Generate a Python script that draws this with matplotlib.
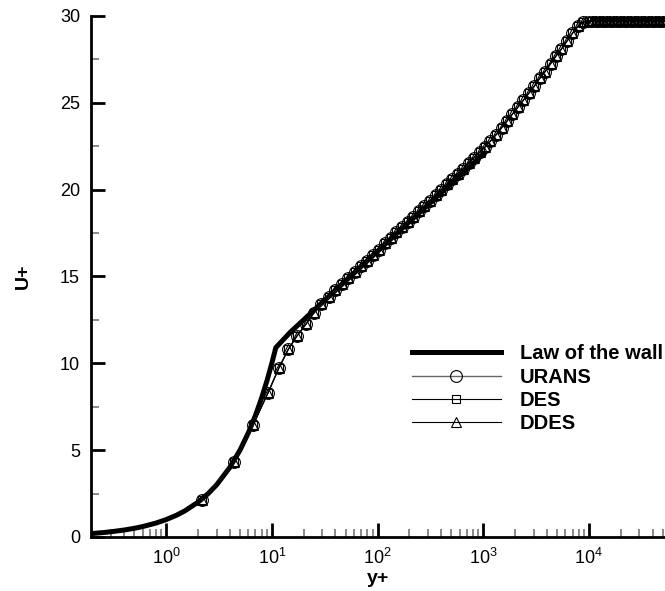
import matplotlib
matplotlib.use('Agg')
import matplotlib.pyplot as plt
from matplotlib.ticker import LogLocator, MultipleLocator, NullFormatter

plt.rcParams['font.family'] = ['Liberation Sans', 'DejaVu Sans']
plt.rcParams['mathtext.fontset'] = 'custom'
plt.rcParams['mathtext.rm'] = 'Liberation Sans'

# law of the wall
law_y = [0.2, 0.25, 0.3, 0.4, 0.5, 0.6, 0.8, 1, 1.25, 1.5, 2, 2.5, 3, 4, 5, 6, 7, 8, 9, 10, 10.9,
         15, 20, 30, 50, 100, 200, 500, 1000]
law_u = [0.2, 0.25, 0.3, 0.4, 0.5, 0.6, 0.8, 1, 1.25, 1.5, 2, 2.5, 3, 4, 5, 6, 7, 8, 9, 10, 10.9,
         11.8, 12.5, 13.5, 14.75, 16.45, 18.15, 20.35, 22.05]

# simulation profiles (URANS, DES, DDES coincide in the picture)
yplus = [2.2, 4.4, 6.65, 9.2, 11.7, 14.3, 17.4, 21, 25, 29.5, 34.5, 40, 46, 53, 61, 70, 80, 91,
         103, 117, 133, 151, 171, 193, 218, 246, 278, 314, 355, 400, 450, 508, 572, 645, 727,
         820, 925, 1040, 1170, 1320, 1490, 1680, 1890, 2130, 2400, 2700, 3040, 3420, 3850,
         4340, 4890, 5500, 6200, 6980, 7860, 8850, 9970, 10800, 11600, 12500, 13500, 14600,
         15800, 17000, 18400, 19800, 21400, 23100, 24900, 26900, 29000, 31300, 33800, 36500,
         39400, 42500, 45900, 49600, 53500]
uplus = [2.13, 4.3, 6.45, 8.3, 9.75, 10.8, 11.6, 12.25, 12.9, 13.4, 13.8, 14.2, 14.55, 14.9,
         15.25, 15.6, 15.9, 16.25, 16.55, 16.9, 17.2, 17.55, 17.85, 18.15, 18.45, 18.75, 19.05,
         19.35, 19.7, 20.0, 20.3, 20.6, 20.9, 21.2, 21.55, 21.85, 22.15, 22.45, 22.8, 23.15,
         23.55, 23.95, 24.35, 24.75, 25.15, 25.55, 25.95, 26.4, 26.8, 27.25, 27.7, 28.1, 28.55,
         29.0, 29.4, 29.65, 29.7, 29.7, 29.7, 29.7, 29.7, 29.7, 29.7, 29.7, 29.7, 29.7, 29.7,
         29.7, 29.7, 29.7, 29.7, 29.7, 29.7, 29.7, 29.7, 29.7, 29.7, 29.7, 29.7]

fig = plt.figure(figsize=(6.65, 5.91), dpi=100)
ax = fig.add_axes([0.137, 0.0914, 0.863, 0.8816])

ax.plot(law_y, law_u, color='black', lw=3.6, label='Law of the wall', zorder=2)
ax.plot(yplus, uplus, color='#666666', lw=1.0, marker='o', ms=8.5, mfc='none', mec='black',
        mew=0.8, label='URANS', zorder=3)
ax.plot(yplus, uplus, color='black', lw=0.8, marker='s', ms=5.5, mfc='none', mec='black',
        mew=0.8, label='DES', zorder=3)
ax.plot(yplus, uplus, color='black', lw=0.8, marker='^', ms=7, mfc='none', mec='black',
        mew=0.8, label='DDES', zorder=3)

ax.set_xscale('log')
ax.set_xlim(0.195, 52500)
ax.set_ylim(0, 30)

ax.xaxis.set_major_locator(LogLocator(base=10, numticks=20))
ax.xaxis.set_minor_locator(LogLocator(base=10, subs=range(2, 10), numticks=20))
ax.xaxis.set_minor_formatter(NullFormatter())
ax.yaxis.set_major_locator(MultipleLocator(5))
ax.yaxis.set_minor_locator(MultipleLocator(2.5))

for s in ['top', 'right']:
    ax.spines[s].set_visible(False)
for s in ['left', 'bottom']:
    ax.spines[s].set_linewidth(2)

ax.tick_params(which='major', direction='in', length=10, width=2, labelsize=13, pad=8)
ax.tick_params(which='minor', direction='in', length=6, width=1.2, color='#777777')

ax.set_xlabel('y+', fontsize=14, fontweight='bold', labelpad=1)
ax.set_ylabel('U+', fontsize=14, fontweight='bold', labelpad=20)

leg = ax.legend(loc='upper left', bbox_to_anchor=(0.559, 0.370), frameon=False,
                prop={'weight': 'bold', 'size': 14.5}, handlelength=4.4,
                labelspacing=0.22, handletextpad=0.95, borderaxespad=0, borderpad=0)

fig.savefig('out.png', dpi=100)
